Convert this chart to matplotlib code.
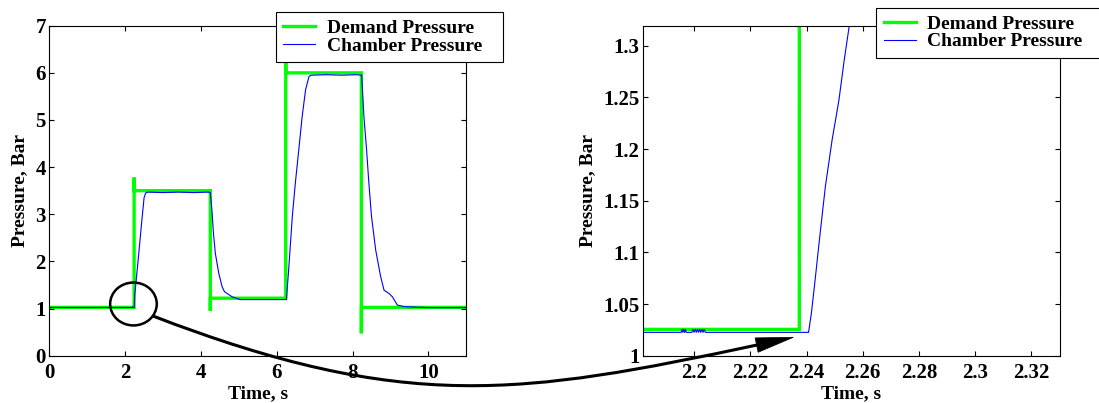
import numpy as np
import matplotlib
matplotlib.use('Agg')
import matplotlib.pyplot as plt
from matplotlib.patches import Ellipse, Polygon, PathPatch
from matplotlib.path import Path
from matplotlib.ticker import FuncFormatter

# demand signal (step commands with one-sample overshoot)
demand_t = [0.0, 2.2374, 2.2375, 2.2395, 4.2470, 4.2471, 4.2491, 6.2370, 6.2371, 6.2391,
            8.2320, 8.2321, 8.2341, 11.0]
demand_p = [1.0255, 1.0255, 3.78, 3.50, 3.50, 0.955, 1.22, 1.22, 6.40, 6.00,
            6.00, 0.475, 1.025, 1.025]

# measured chamber pressure
chamber_t = [
    0.0, 0.6, 1.2, 1.8, 2.1953, 2.1956, 2.1959, 2.1962, 2.1965, 2.1968, 2.1971,
    2.1991, 2.1995, 2.1999, 2.2003, 2.2007, 2.2011, 2.2015, 2.2019, 2.2023, 2.2027, 2.2031, 2.2035, 2.2039, 2.2043,
    2.2407, 2.2417, 2.2429, 2.2448, 2.2467, 2.2491, 2.2515, 2.2534, 2.2552,
    2.27, 2.35, 2.44, 2.50, 2.54, 2.60, 3.0, 3.4, 3.8, 4.2, 4.247,
    4.29, 4.33, 4.38, 4.47, 4.56, 4.62, 4.69, 4.82, 5.04, 5.6, 6.255,
    6.32, 6.41, 6.49, 6.58, 6.67, 6.76, 6.85, 6.90, 7.3, 7.7, 8.1, 8.24,
    8.30, 8.37, 8.43, 8.50, 8.61, 8.74, 8.83, 8.96, 9.05, 9.18, 9.36, 10.0, 11.0]
chamber_p = [
    1.0226, 1.0226, 1.0226, 1.0226, 1.0226, 1.0255, 1.0226, 1.0255, 1.0226, 1.0255, 1.0226,
    1.0226, 1.0255, 1.0226, 1.0255, 1.0226, 1.0255, 1.0226, 1.0255, 1.0226, 1.0255, 1.0226, 1.0255, 1.0226, 1.0226,
    1.0226, 1.041, 1.070, 1.118, 1.164, 1.209, 1.247, 1.286, 1.3193,
    1.42, 2.08, 2.86, 3.35, 3.45, 3.47, 3.46, 3.47, 3.46, 3.47, 3.46,
    3.09, 2.60, 2.17, 1.75, 1.46, 1.36, 1.32, 1.25, 1.19, 1.19, 1.19,
    1.89, 2.95, 3.66, 4.36, 5.07, 5.64, 5.92, 5.95, 5.96, 5.95, 5.96, 5.95,
    5.07, 4.36, 3.66, 2.95, 2.24, 1.68, 1.39, 1.32, 1.25, 1.075, 1.04, 1.02, 1.02]

full_xticks = [0, 2, 4, 6, 8, 10]
full_yticks = [0, 1, 2, 3, 4, 5, 6, 7]
zoom_xticks = [2.2, 2.22, 2.24, 2.26, 2.28, 2.3, 2.32]
zoom_yticks = [1, 1.05, 1.1, 1.15, 1.2, 1.25, 1.3]

plt.rcParams['font.family'] = 'Liberation Serif'
plt.rcParams['font.weight'] = 'bold'
plt.rcParams['axes.labelweight'] = 'bold'
plt.rcParams['font.size'] = 14

W, H = 1099, 403
fig = plt.figure(figsize=(W / 100, H / 100), dpi=100)

def px(x, y):
    # pixel position (from top left) -> figure fraction
    return (x / W, 1 - y / H)

def pxbox(x0, y0, x1, y1):
    # pixel rectangle -> (left, bottom, width, height) in figure fraction
    return (x0 / W, 1 - y1 / H, (x1 - x0) / W, (y1 - y0) / H)

ax1 = fig.add_axes([49.3 / W, 47.3 / H, 417 / W, 330 / H])
ax2 = fig.add_axes([643 / W, 47.3 / H, 417 / W, 330 / H])

fmt = FuncFormatter(lambda v, _: '%g' % v)

for ax in (ax1, ax2):
    ax.plot(demand_t, demand_p, color='#00ff00', lw=2.4, label='Demand Pressure',
            solid_joinstyle='miter')
    ax.plot(chamber_t, chamber_p, color='#0000ff', lw=0.8, label='Chamber Pressure')
    ax.tick_params(direction='in', top=True, right=True, length=3.4, width=0.8,
                   labelsize=15)
    ax.tick_params(axis='x', pad=5)
    ax.tick_params(axis='y', pad=2.5)
    for s in ax.spines.values():
        s.set_linewidth(0.8)
    ax.set_xlabel('Time, s', labelpad=2)
    ax.set_ylabel('Pressure, Bar', labelpad=5)
    ax.xaxis.set_major_formatter(fmt)
    ax.yaxis.set_major_formatter(fmt)

ax1.set_xlim(0, 11)
ax1.set_ylim(0, 7)
ax1.set_xticks(full_xticks)
ax1.set_yticks(full_yticks)

ax2.set_xlim(2.1817, 2.3303)
ax2.set_ylim(1, 1.3194)
ax2.set_xticks(zoom_xticks)
ax2.set_yticks(zoom_yticks)

leg_kw = dict(loc='upper left', mode='expand', frameon=True, fancybox=False,
              framealpha=1, edgecolor='black', borderpad=0.4, labelspacing=0.0,
              handlelength=1.65, handletextpad=0.6, borderaxespad=0,
              bbox_transform=fig.transFigure, fontsize=14)
l1 = ax1.legend(bbox_to_anchor=pxbox(275.5, 11.7, 503.4, 63.3), **leg_kw)
l2 = ax2.legend(bbox_to_anchor=pxbox(875.8, 7.5, 1104, 59.3), **leg_kw)
for lg in (l1, l2):
    lg.get_frame().set_linewidth(0.8)
    lg.set_zorder(20)

# circle round the start of the first step
ring = Ellipse((2.22, 1.097), 1.23, 0.91, fill=False, lw=1.8, ec='black',
               clip_on=False, zorder=25)
ax1.add_patch(ring)

# curved arrow leading to the zoomed view
verts = [px(153, 316), px(405, 413), px(522, 395), px(757, 345)]
curve = Path(verts, [Path.MOVETO, Path.CURVE4, Path.CURVE4, Path.CURVE4])
fig.add_artist(PathPatch(curve, fill=False, lw=2.2, ec='black',
                         transform=fig.transFigure, zorder=30))
head = Polygon([px(793.3, 337.3), px(758.1, 352.3), px(755.1, 337.9)], closed=True,
               fc='black', ec='black', lw=0.5, transform=fig.transFigure, zorder=30)
fig.add_artist(head)

fig.savefig('out.png', dpi=100)
